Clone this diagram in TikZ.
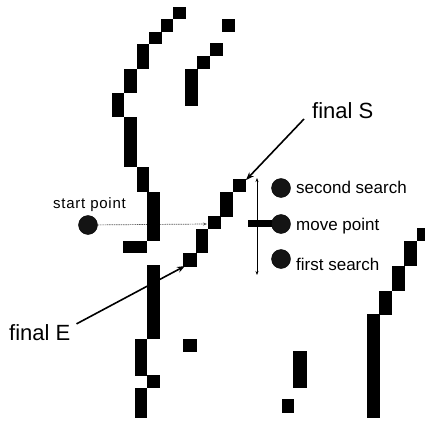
\documentclass[tikz,border=0pt]{standalone}
\usepackage{fontspec}
\setmainfont{Liberation Sans}
\newfontfamily\widesans[LetterSpace=5]{Liberation Sans}
\usetikzlibrary{arrows.meta}

\begin{document}
\begin{tikzpicture}[x=1pt, y=-1pt,
	pix/.style = {fill=black},
	spot/.style = {draw=black, fill=black!92, circle, minimum size=19pt, inner sep=0pt},
	lbl/.style = {anchor=base west, inner sep=0pt, font=\fontsize{17}{17}\selectfont},
	tag/.style = {anchor=base west, inner sep=0pt, font=\fontsize{22}{22}\selectfont},
	ptr/.style = {line width=1.6pt, -{Stealth[length=8pt,width=6pt]}},
	trace/.style = {gray!70!black, line width=0.7pt, dash pattern=on 1.5pt off 0.8pt, -{Stealth[length=4pt,width=3pt]}}]
	\useasboundingbox (0,0) rectangle (425,422);
	% tip points of the connectors
	\coordinate (mp) at (207,224);
	\coordinate (sTip) at (246,180);
	\coordinate (eTip) at (185,266);
	\coordinate (up) at (257,178);
	\coordinate (down) at (257,275);
	\node[spot] (start) at (88,225){};
	\node[anchor=base west, inner sep=0pt, font=\widesans\fontsize{15}{15}\selectfont] (startL) at (53,208){start point};
	\draw[trace] (start) -- (mp);
	% left contour
	\fill[pix] (173,7) rectangle (186,19);
	\fill[pix] (161,19) rectangle (173,32);
	\fill[pix] (149,32) rectangle (162,44);
	\fill[pix] (137,44) rectangle (149,69);
	\fill[pix] (124,69) rectangle (137,93);
	\fill[pix] (112,93) rectangle (124,117);
	\fill[pix] (124,117) rectangle (137,167);
	\fill[pix] (137,167) rectangle (149,192);
	\fill[pix] (147,192) rectangle (160,241);
	\fill[pix] (123,241) rectangle (147,253);
	\fill[pix] (147,265) rectangle (160,339);
	\fill[pix] (135,339) rectangle (147,376);
	\fill[pix] (147,375) rectangle (160,388);
	\fill[pix] (135,388) rectangle (147,418);
	\fill[pix] (183,339) rectangle (197,352);
	% upper contour
	\fill[pix] (222,19) rectangle (235,32);
	\fill[pix] (210,43) rectangle (223,56);
	\fill[pix] (197,56) rectangle (210,69);
	\fill[pix] (185,69) rectangle (198,106);
	% traced line
	\fill[pix] (233,179) rectangle (246,192);
	\fill[pix] (220,192) rectangle (233,217);
	\fill[pix] (208,216) rectangle (221,229);
	\fill[pix] (196,229) rectangle (208,253);
	\fill[pix] (183,253) rectangle (197,267);
	% bottom pieces
	\fill[pix] (293,351) rectangle (307,388);
	\fill[pix] (282,399) rectangle (294,413);
	\fill[pix] (417,228) rectangle (425,241);
	\fill[pix] (404,241) rectangle (417,266);
	\fill[pix] (392,266) rectangle (405,291);
	\fill[pix] (379,291) rectangle (392,315);
	\fill[pix] (367,314) rectangle (380,418);
	% search legend
	\draw[line width=0.8pt, {Stealth[length=4pt,width=3pt]}-{Stealth[length=4pt,width=3pt]}] (up) -- (down);
	\fill (248,220) rectangle (272,227);
	\node[spot] (second) at (281,188){};
	\node[spot] (move) at (281,224){};
	\node[spot] (first) at (281,259){};
	\node[lbl] (secondL) at (296,193){second search};
	\node[lbl] (moveL) at (296,230){move point};
	\node[lbl] (firstL) at (296,270){first search};
	% end points
	\node[tag] (fs) at (312,119){final S};
	\node[tag] (fe) at (9,340){final E};
	\draw[ptr] ([xshift=-8pt]fs.base west) -- (sTip);
	\draw[ptr] ([xshift=6pt]fe.north east) -- (eTip);
\end{tikzpicture}
\end{document}
